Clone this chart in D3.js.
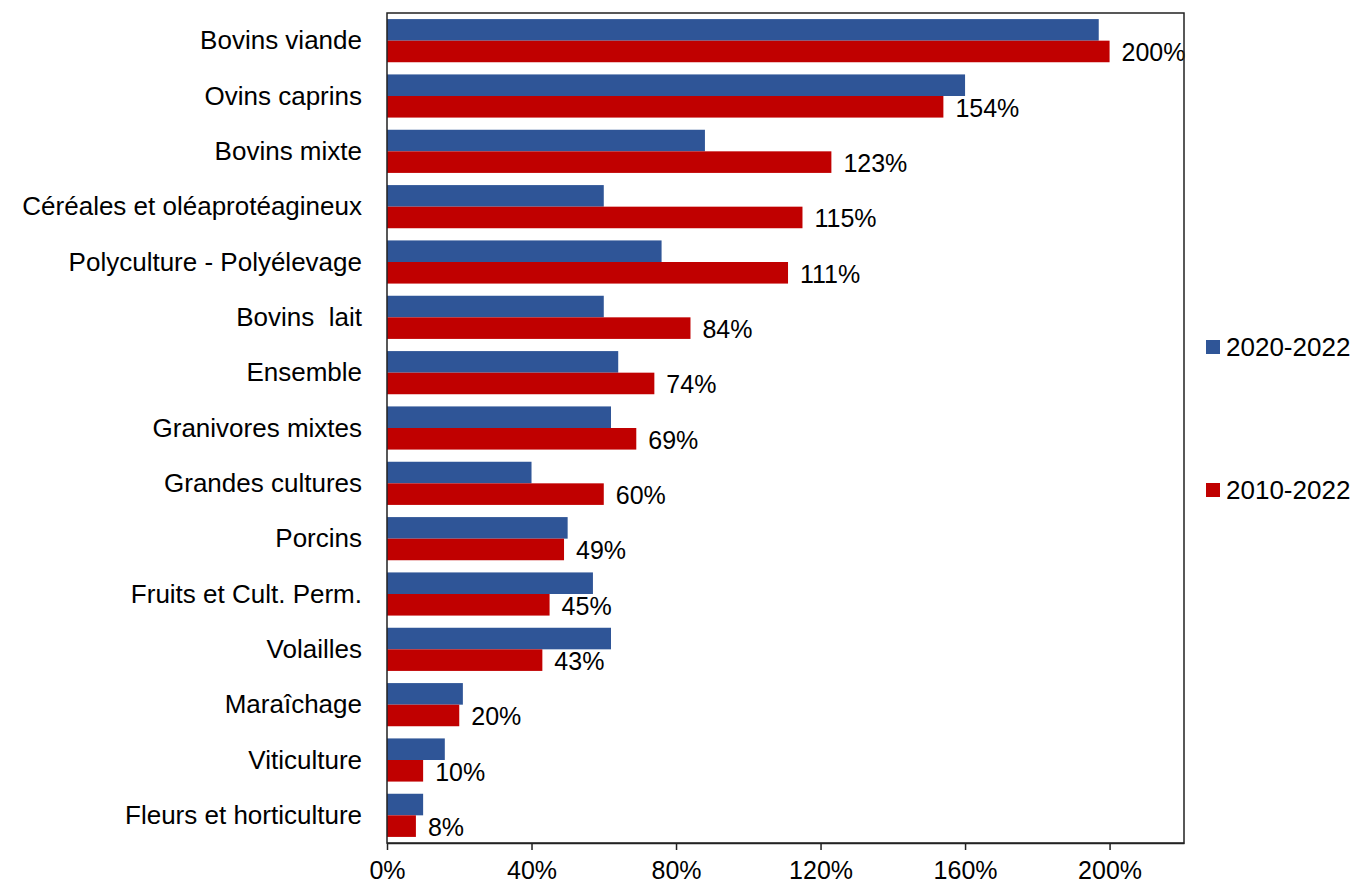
<!DOCTYPE html>
<html>
<head>
<meta charset="utf-8">
<script src="https://cdn.jsdelivr.net/npm/d3@7"></script>
<style>
  body { margin: 0; background: #fff; }
  text { font-family: Arial, "Liberation Sans", sans-serif; fill: #000; }
</style>
</head>
<body>
<svg id="chart" width="1355" height="884"></svg>
<script>
var categories = [
  "Bovins viande", "Ovins caprins", "Bovins mixte", "Céréales et oléaprotéagineux",
  "Polyculture - Polyélevage", "Bovins  lait", "Ensemble", "Granivores mixtes",
  "Grandes cultures", "Porcins", "Fruits et Cult. Perm.", "Volailles",
  "Maraîchage", "Viticulture", "Fleurs et horticulture"
];
var values2020 = [197, 160, 88, 60, 76, 60, 64, 62, 40, 50, 57, 62, 21, 16, 10];
var values2010 = [200, 154, 123, 115, 111, 84, 74, 69, 60, 49, 45, 43, 20, 10, 8];
var seriesNames = ["2020-2022", "2010-2022"];
var seriesColors = ["#2F5597", "#C00000"];
var xTicks = [0, 40, 80, 120, 160, 200];

var svg = d3.select("#chart");
var plotLeft = 387, plotRight = 1184, plotTop = 13, plotBottom = 843;

var x = d3.scaleLinear().domain([0, 220.6]).range([plotLeft, plotRight]);
var y = d3.scaleBand().domain(categories).range([plotTop, plotBottom]).paddingInner(0.22).paddingOuter(0.11);
var sub = d3.scaleBand().domain(seriesNames).range([0, y.bandwidth()]);

var rows = categories.map((c, i) => ({ cat: c, vals: [values2020[i], values2010[i]] }));

// bars
var g = svg.append("g");
rows.forEach((r) => {
  seriesNames.forEach((s, j) => {
    g.append("rect")
      .attr("x", x(0))
      .attr("y", y(r.cat) + sub(s))
      .attr("width", x(r.vals[j]) - x(0))
      .attr("height", sub.bandwidth())
      .style("fill", seriesColors[j]);
  });
});

// value labels on red bars
svg.append("g")
  .selectAll("text")
  .data(rows)
  .enter()
  .append("text")
  .text((d) => d.vals[1] + "%")
  .attr("x", (d) => x(d.vals[1]) + 12)
  .attr("y", (d) => y(d.cat) + sub(seriesNames[1]) + sub.bandwidth() / 2)
  .attr("dy", "0.4em")
  .style("font-size", "25px");

// frame
svg.append("rect")
  .attr("x", plotLeft).attr("y", plotTop)
  .attr("width", plotRight - plotLeft).attr("height", plotBottom - plotTop)
  .style("fill", "none").style("stroke", "#222").style("stroke-width", 1.5);

// x axis
var xAxis = svg.append("g")
  .attr("transform", `translate(0,${plotBottom})`)
  .call(d3.axisBottom(x).tickValues(xTicks).tickFormat((d) => d + "%")
    .tickSize(7).tickSizeOuter(0).tickPadding(11));
xAxis.select(".domain").style("stroke", "#222").style("stroke-width", 1.5);
xAxis.selectAll(".tick line").style("stroke", "#222").style("stroke-width", 1.5);
xAxis.selectAll("text").style("font-size", "25px").style("font-family", "Arial, 'Liberation Sans', sans-serif");

// category labels
svg.append("g")
  .selectAll("text")
  .data(categories)
  .enter()
  .append("text")
  .text((d) => d)
  .attr("x", 362)
  .attr("y", (d) => y(d) + y.bandwidth() / 2)
  .attr("dy", "0.33em")
  .style("text-anchor", "end")
  .style("font-size", "26px")
  .style("white-space", "pre");

// legend
var legendY = [347, 490];
var legend = svg.append("g");
seriesNames.forEach((s, i) => {
  legend.append("rect")
    .attr("x", 1206).attr("y", legendY[i] - 7)
    .attr("width", 14).attr("height", 14)
    .style("fill", seriesColors[i]);
  legend.append("text")
    .text(s)
    .attr("x", 1226).attr("y", legendY[i])
    .attr("dy", "0.36em")
    .style("font-size", "26px");
});
</script>
</body>
</html>
